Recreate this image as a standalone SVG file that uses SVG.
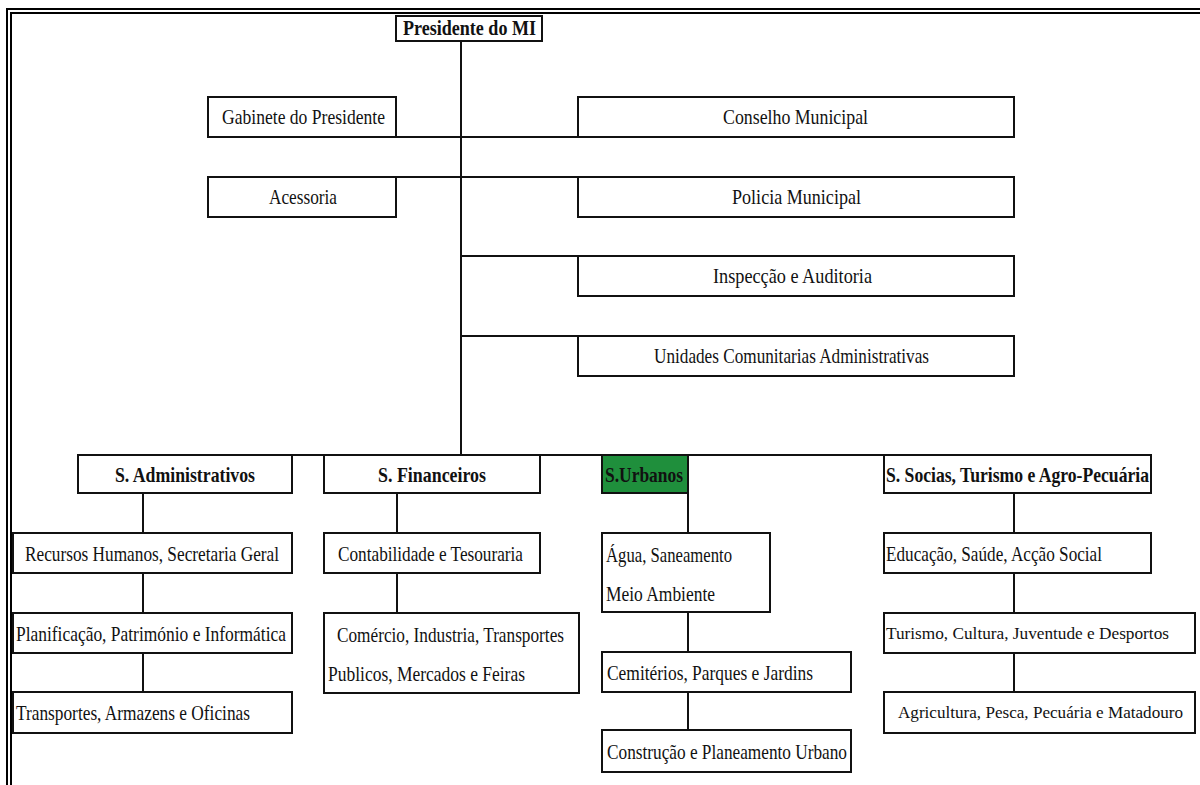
<svg xmlns="http://www.w3.org/2000/svg" width="1200" height="785" viewBox="0 0 1200 785">
<style>
.b{fill:#fff;stroke:#111;stroke-width:2}
.g{fill:#1f8f3c;stroke:#111;stroke-width:2}
.t{font-family:"Liberation Serif","Times New Roman",serif;font-size:21px;fill:#111}
.tb{font-family:"Liberation Serif","Times New Roman",serif;font-size:21px;font-weight:bold;fill:#111}
.s{font-size:17px}
.c{stroke:#111;stroke-width:2;fill:none}
.f{stroke:#000;stroke-width:2;fill:none}
</style>
<rect width="1200" height="785" fill="#fff"/>
<g id="frame">
<path class="f" d="M7,785 V9 H1200"/>
<path class="f" d="M11,785 V13 H1200"/>
</g>
<g id="connectors">
<path class="c" d="M461,41 V455"/>
<path class="c" d="M396,137 H578"/>
<path class="c" d="M396,177 H578"/>
<path class="c" d="M461,256 H578"/>
<path class="c" d="M461,336 H578"/>
<path class="c" d="M78,455 H1151"/>
<path class="c" d="M143,493 V533 M143,573 V613 M143,653 V692"/>
<path class="c" d="M397,493 V533 M397,573 V613"/>
<path class="c" d="M688,493 V533 M688,612 V652 M688,692 V730"/>
<path class="c" d="M1014,493 V533 M1014,573 V613 M1014,653 V692"/>
</g>
<g id="presidente"><rect class="b" x="396" y="16" width="146" height="25"/><text class="tb" x="403" y="35" style="font-size:20px" textLength="133" lengthAdjust="spacingAndGlyphs">Presidente do MI</text></g>
<g id="gabinete"><rect class="b" x="208" y="97" width="188" height="40"/><text class="t" x="222" y="124" textLength="163" lengthAdjust="spacingAndGlyphs">Gabinete do Presidente</text></g>
<g id="conselho"><rect class="b" x="578" y="97" width="436" height="40"/><text class="t" x="723" y="124" textLength="145" lengthAdjust="spacingAndGlyphs">Conselho Municipal</text></g>
<g id="acessoria"><rect class="b" x="208" y="177" width="188" height="40"/><text class="t" x="269" y="204" textLength="68" lengthAdjust="spacingAndGlyphs">Acessoria</text></g>
<g id="policia"><rect class="b" x="578" y="177" width="436" height="40"/><text class="t" x="732" y="204" textLength="129" lengthAdjust="spacingAndGlyphs">Policia Municipal</text></g>
<g id="inspeccao"><rect class="b" x="578" y="256" width="436" height="40"/><text class="t" x="713" y="283" textLength="159" lengthAdjust="spacingAndGlyphs">Inspecção e Auditoria</text></g>
<g id="unidades"><rect class="b" x="578" y="336" width="436" height="40"/><text class="t" x="654" y="363" textLength="275" lengthAdjust="spacingAndGlyphs">Unidades Comunitarias Administrativas</text></g>
<g id="s-admin"><rect class="b" x="78" y="455" width="214" height="38"/><text class="tb" x="115" y="482" textLength="140" lengthAdjust="spacingAndGlyphs">S. Administrativos</text></g>
<g id="s-fin"><rect class="b" x="324" y="455" width="216" height="38"/><text class="tb" x="378" y="482" textLength="108" lengthAdjust="spacingAndGlyphs">S. Financeiros</text></g>
<g id="s-urb"><rect class="g" x="602" y="455" width="86" height="38"/><text class="tb" x="605" y="482" textLength="78" lengthAdjust="spacingAndGlyphs">S.Urbanos</text></g>
<g id="s-soc"><rect class="b" x="884" y="455" width="267" height="38"/><text class="tb" x="886" y="482" textLength="263" lengthAdjust="spacingAndGlyphs">S. Socias, Turismo e Agro-Pecuária</text></g>
<g id="recursos"><rect class="b" x="13" y="533" width="279" height="40"/><text class="t" x="25" y="561" textLength="254" lengthAdjust="spacingAndGlyphs">Recursos Humanos, Secretaria Geral</text></g>
<g id="planificacao"><rect class="b" x="13" y="613" width="279" height="40"/><text class="t" x="16" y="641" textLength="270" lengthAdjust="spacingAndGlyphs">Planificação, Património e Informática</text></g>
<g id="transportes"><rect class="b" x="13" y="692" width="279" height="41"/><text class="t" x="16" y="720" textLength="234" lengthAdjust="spacingAndGlyphs">Transportes, Armazens e Oficinas</text></g>
<g id="contabilidade"><rect class="b" x="324" y="533" width="216" height="40"/><text class="t" x="338" y="561" textLength="185" lengthAdjust="spacingAndGlyphs">Contabilidade e Tesouraria</text></g>
<g id="comercio"><rect class="b" x="324" y="613" width="255" height="80"/><text class="t" x="337" y="642" textLength="227" lengthAdjust="spacingAndGlyphs">Comércio, Industria, Transportes</text><text class="t" x="328" y="681" textLength="197" lengthAdjust="spacingAndGlyphs">Publicos, Mercados e Feiras</text></g>
<g id="agua"><rect class="b" x="602" y="533" width="168" height="79"/><text class="t" x="606" y="562" textLength="126" lengthAdjust="spacingAndGlyphs">Água, Saneamento</text><text class="t" x="606" y="601" textLength="109" lengthAdjust="spacingAndGlyphs">Meio Ambiente</text></g>
<g id="cemiterios"><rect class="b" x="602" y="652" width="249" height="40"/><text class="t" x="607" y="680" textLength="206" lengthAdjust="spacingAndGlyphs">Cemitérios, Parques e Jardins</text></g>
<g id="construcao"><rect class="b" x="602" y="730" width="249" height="42"/><text class="t" x="607" y="759" textLength="240" lengthAdjust="spacingAndGlyphs">Construção e Planeamento Urbano</text></g>
<g id="educacao"><rect class="b" x="884" y="533" width="267" height="40"/><text class="t" x="886" y="561" textLength="216" lengthAdjust="spacingAndGlyphs">Educação, Saúde, Acção Social</text></g>
<g id="turismo"><rect class="b" x="884" y="613" width="311" height="40"/><text class="t s" x="886" y="639" style="font-size:17px" textLength="283" lengthAdjust="spacingAndGlyphs">Turismo, Cultura, Juventude e Desportos</text></g>
<g id="agricultura"><rect class="b" x="884" y="692" width="311" height="41"/><text class="t s" x="898" y="718" style="font-size:17px" textLength="285" lengthAdjust="spacingAndGlyphs">Agricultura, Pesca, Pecuária e Matadouro</text></g>
</svg>
